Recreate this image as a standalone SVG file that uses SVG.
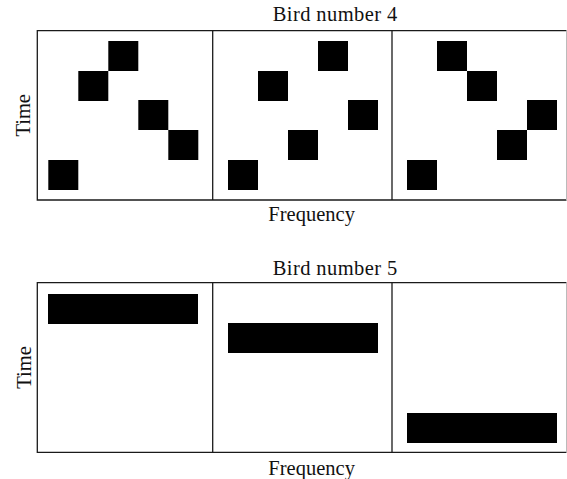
<svg xmlns="http://www.w3.org/2000/svg" width="567" height="479" viewBox="0 0 567 479">
<style>
.frame{fill:none;stroke:#1a1a1a;stroke-width:1.3}
.div{stroke:#1a1a1a;stroke-width:1.3}
.redge{stroke:#bbbbbb;stroke-width:1}
.blk{fill:#000}
.t{font-family:"Liberation Serif","Times New Roman",serif;font-size:20.5px;fill:#111}
</style>
<rect width="567" height="479" fill="#fff"/>
<g id="chart4">
  <text class="t" x="272.7" y="20.7" textLength="124.5">Bird number 4</text>
  <text class="t" x="30.5" y="115.3" text-anchor="middle" transform="rotate(-90 30.5 115.3)">Time</text>
  <text class="t" x="268.3" y="220.7" textLength="86.7">Frequency</text>
  <path class="frame" d="M566.5 30.7 H37.3 V200 H566.5"/>
  <line class="redge" x1="566.5" y1="30.7" x2="566.5" y2="200"/>
  <line class="div" x1="212.7" y1="30.7" x2="212.7" y2="200"/>
  <line class="div" x1="392" y1="30.7" x2="392" y2="200"/>
  <g id="b4p1">
    <rect class="blk" x="108.3" y="41" width="30" height="30"/>
    <rect class="blk" x="78.3" y="71" width="30" height="30"/>
    <rect class="blk" x="138.3" y="100" width="30" height="30"/>
    <rect class="blk" x="168.3" y="130" width="30" height="30"/>
    <rect class="blk" x="48.3" y="160" width="30" height="30"/>
  </g>
  <g id="b4p2">
    <rect class="blk" x="318" y="41" width="30" height="30"/>
    <rect class="blk" x="258" y="71" width="30" height="30"/>
    <rect class="blk" x="348" y="100" width="30" height="30"/>
    <rect class="blk" x="288" y="130" width="30" height="30"/>
    <rect class="blk" x="228" y="160" width="30" height="30"/>
  </g>
  <g id="b4p3">
    <rect class="blk" x="437" y="41" width="30" height="30"/>
    <rect class="blk" x="467" y="71" width="30" height="30"/>
    <rect class="blk" x="527" y="100" width="30" height="30"/>
    <rect class="blk" x="497" y="130" width="30" height="30"/>
    <rect class="blk" x="407" y="160" width="30" height="30"/>
  </g>
</g>
<g id="chart5">
  <text class="t" x="272.7" y="275" textLength="124.5">Bird number 5</text>
  <text class="t" x="30.5" y="367.5" text-anchor="middle" transform="rotate(-90 30.5 367.5)">Time</text>
  <text class="t" x="268.3" y="475.3" textLength="86.7">Frequency</text>
  <path class="frame" d="M566.5 282.7 H37.3 V452.3 H566.5"/>
  <line class="redge" x1="566.5" y1="282.7" x2="566.5" y2="452.3"/>
  <line class="div" x1="212.7" y1="282.7" x2="212.7" y2="452.3"/>
  <line class="div" x1="392" y1="282.7" x2="392" y2="452.3"/>
  <rect id="b5p1" class="blk" x="48" y="294" width="150" height="30"/>
  <rect id="b5p2" class="blk" x="228" y="323" width="150" height="30"/>
  <rect id="b5p3" class="blk" x="407" y="413" width="150" height="30"/>
</g>
</svg>
